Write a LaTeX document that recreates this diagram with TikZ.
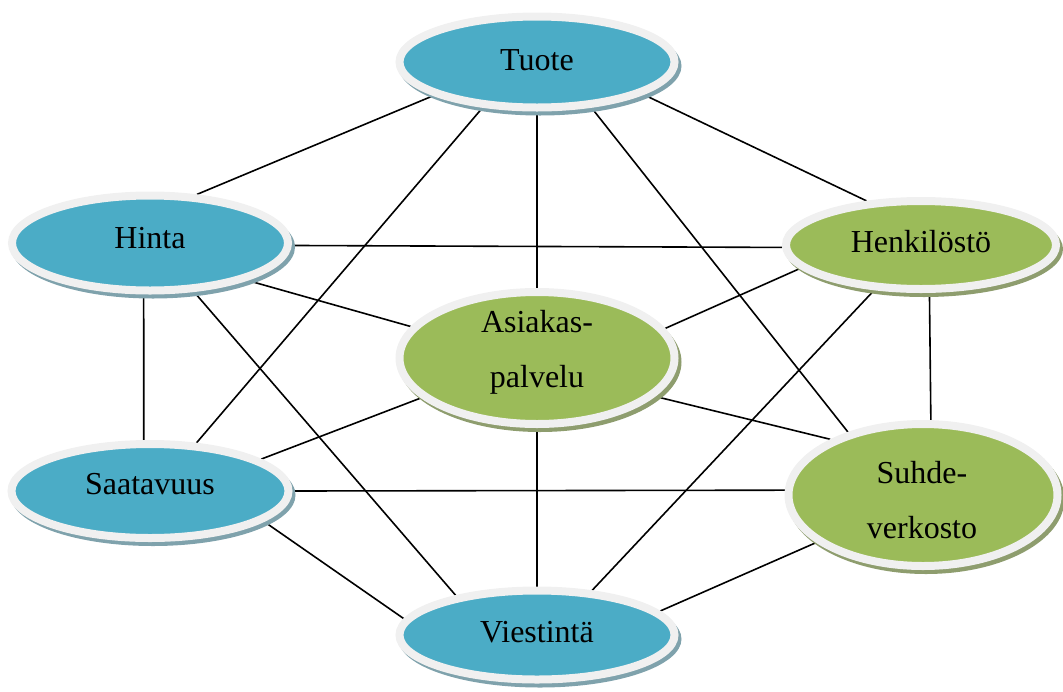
\documentclass[tikz,border=0pt]{standalone}
\usepackage{fontspec}
\setmainfont{Liberation Serif}
\usetikzlibrary{shapes.geometric}
\pgfdeclarelayer{background}
\pgfsetlayers{background,main}
\definecolor{aqua}{HTML}{4BACC6}
\definecolor{olive}{HTML}{9BBB59}
\definecolor{rim}{HTML}{F0F0F0}
\definecolor{aquashadow}{HTML}{7FA2AC}
\definecolor{oliveshadow}{HTML}{8E9D6E}
\tikzset{
  bubble/.style={ellipse, draw=rim, line width=8pt, inner sep=0pt, outer sep=auto},
  blue bubble/.style={bubble, fill=aqua},
  green bubble/.style={bubble, fill=olive},
  label text/.style={anchor=base, inner sep=0pt, font=\fontsize{32}{36}\selectfont},
  link/.style={line width=1.6pt, black},
}
\begin{document}
\begin{tikzpicture}[x=1pt, y=-1pt]
  \useasboundingbox (0,0) rectangle (1063,691);

  % ellipses
  \node[blue bubble, minimum width=275pt, minimum height=91pt]  (tuote)  at (537,62)  {};
  \node[blue bubble, minimum width=276pt, minimum height=95pt]  (hinta)  at (150,243) {};
  \node[green bubble, minimum width=270pt, minimum height=88pt] (henk)   at (921,245) {};
  \node[green bubble, minimum width=275pt, minimum height=132pt] (asiak) at (537,358) {};
  \node[blue bubble, minimum width=277pt, minimum height=94pt]  (saat)   at (150,491) {};
  \node[green bubble, minimum width=269pt, minimum height=142pt] (suhde) at (923,495) {};
  \node[blue bubble, minimum width=275pt, minimum height=89pt]  (viest)  at (537,635) {};

  % labels
  \node[label text] (t-tuote) at (537,70)  {Tuote};
  \node[label text] (t-hinta) at (150,248) {Hinta};
  \node[label text] (t-henk)  at (921,252) {Henkilöstö};
  \node[label text] (t-asiak1) at (537,332) {Asiakas-};
  \node[label text] (t-asiak2) at (537,387) {palvelu};
  \node[label text] (t-saat)  at (150,494) {Saatavuus};
  \node[label text] (t-suhde1) at (922,483) {Suhde-};
  \node[label text] (t-suhde2) at (922,538) {verkosto};
  \node[label text] (t-viest) at (537,642) {Viestintä};

  \begin{pgfonlayer}{background}
    % connectors
    \draw[link] (tuote.-162.7) -- (hinta.46.8);
    \draw[link] (tuote.-17.8)  -- (henk.141.6);
    \draw[link] (tuote.-90)    -- (asiak.90);
    \draw[link] (tuote.-140.6) -- (saat.46.2);
    \draw[link] (tuote.-40.4)  -- (suhde.140.3);
    \draw[link] (hinta.-1.5)   -- (henk.-179.2);
    \draw[link] (hinta.-21.3)  -- (asiak.166.3);
    \draw[link] (hinta.-97)    -- (saat.97.5);
    \draw[link] (hinta.-48.7)  -- (viest.154.9);
    \draw[link] (henk.-169.2)  -- (asiak.13.3);
    \draw[link] (henk.-80.7)   -- (suhde.84.7);
    \draw[link] (henk.-136.8)  -- (viest.39.8);
    \draw[link] (asiak.-161.9) -- (saat.16);
    \draw[link] (asiak.-18.4)  -- (suhde.149.8);
    \draw[link] (asiak.-90)    -- (viest.90);
    \draw[link] (saat.0)       -- (suhde.178.8);
    \draw[link] (saat.-15.7)   -- (viest.173);
    \draw[link] (suhde.-156.1) -- (viest.11.2);

    % drop shadows under the ellipses
    \fill[aquashadow]  (540,66)  ellipse [x radius=141.5pt, y radius=49.5pt];
    \fill[aquashadow]  (153,247) ellipse [x radius=142pt,   y radius=51.5pt];
    \fill[oliveshadow] (924,249) ellipse [x radius=139pt,   y radius=48pt];
    \fill[oliveshadow] (540,362) ellipse [x radius=141.5pt, y radius=70pt];
    \fill[aquashadow]  (153,495) ellipse [x radius=142.5pt, y radius=51pt];
    \fill[oliveshadow] (926,499) ellipse [x radius=138.5pt, y radius=75pt];
    \fill[aquashadow]  (540,639) ellipse [x radius=141.5pt, y radius=48.5pt];
  \end{pgfonlayer}
\end{tikzpicture}
\end{document}
